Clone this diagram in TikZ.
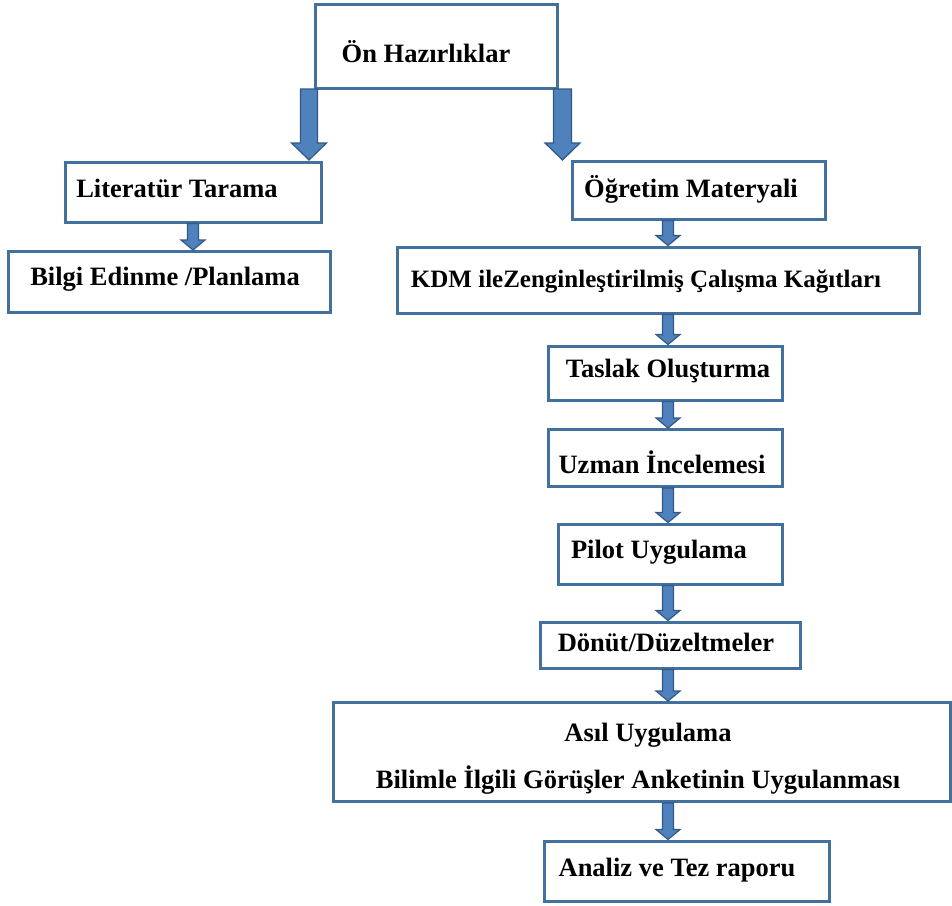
\documentclass[tikz,border=0pt]{standalone}
\usepackage{fontspec}
\setmainfont{Liberation Serif}
\usetikzlibrary{calc}
\definecolor{boxline}{RGB}{65,113,156}
\definecolor{arrfill}{RGB}{79,129,189}
\definecolor{arrline}{RGB}{50,88,135}
\tikzset{
  boxnode/.style={draw=boxline, line width=3pt, fill=white, inner sep=0pt},
  lbl/.style={font=\fontsize{26.5}{30}\selectfont\bfseries, inner sep=0pt, text=black},
  lblsmall/.style={lbl, font=\fontsize{25}{30}\selectfont\bfseries},
  arrsty/.style={fill=arrfill, draw=arrline, line width=1.2pt, line join=miter},
}
\newcommand\blockarrow[5]{%
  \path[arrsty] let \p1=(#1), \p2=(#2) in
   (\x1-#3,\y1) -- (\x1+#3,\y1) -- (\x1+#3,\y2+#5) -- (\x1+#4,\y2+#5) -- (\x1,\y2)
   -- (\x1-#4,\y2+#5) -- (\x1-#3,\y2+#5) -- cycle;}
\begin{document}
\begin{tikzpicture}[x=1pt,y=-1pt]
\useasboundingbox[fill=white] (0,0) rectangle (952,905);
% column coordinates
\coordinate (colL) at (309,0);
\coordinate (colR) at (562.5,0);
\coordinate (colS) at (193,0);
\coordinate (colM) at (668,0);
% boxes (drawn first for the big arrows)
\node[boxnode, minimum width=242pt, minimum height=84pt] (oh) at (436.5,46) {};
\coordinate (ohb) at (436.5,89);
% big arrows
\blockarrow{colL |- ohb}{colL |- 0,160}{8.5pt}{17.5pt}{17pt}
\blockarrow{colR |- ohb}{colR |- 0,160}{9pt}{17.5pt}{17pt}
% other boxes
\node[boxnode, minimum width=256pt, minimum height=60pt] (lit) at (193.5,192) {};
\node[boxnode, minimum width=322pt, minimum height=61pt] (bilgi) at (169,282) {};
\node[boxnode, minimum width=253pt, minimum height=58pt] (ogr) at (698.5,190) {};
\node[boxnode, minimum width=522pt, minimum height=66pt] (kdm) at (658,280) {};
\node[boxnode, minimum width=234pt, minimum height=54pt] (taslak) at (665,373) {};
\node[boxnode, minimum width=234pt, minimum height=57pt] (uzman) at (665,458) {};
\node[boxnode, minimum width=224pt, minimum height=60pt] (pilot) at (670,554) {};
\node[boxnode, minimum width=260pt, minimum height=46pt] (donut) at (670,645) {};
\node[boxnode, minimum width=617pt, minimum height=99pt] (asil) at (641.5,752) {};
\node[boxnode, minimum width=285pt, minimum height=60pt] (analiz) at (686.5,871) {};
% small arrows
\blockarrow{colS |- lit.south}{colS |- bilgi.north}{5.5pt}{12pt}{10pt}
\blockarrow{colM |- ogr.south}{colM |- kdm.north}{5.5pt}{12pt}{10pt}
\blockarrow{colM |- kdm.south}{colM |- taslak.north}{5.5pt}{12pt}{10pt}
\blockarrow{colM |- taslak.south}{colM |- uzman.north}{5.5pt}{12pt}{10pt}
\blockarrow{colM |- uzman.south}{colM |- pilot.north}{5.5pt}{12pt}{10pt}
\blockarrow{colM |- pilot.south}{colM |- donut.north}{5.5pt}{12pt}{10pt}
\blockarrow{colM |- donut.south}{colM |- asil.north}{5.5pt}{12pt}{10pt}
\blockarrow{colM |- asil.south}{colM |- analiz.north}{5.5pt}{12pt}{10pt}
% labels
\node[lbl] (ohT) at (426,52) {Ön Hazırlıklar};
\node[lbl] (litT) at (177,188) {Literatür Tarama};
\node[lbl] (bilgiT) at (165,279) {Bilgi Edinme /Planlama};
\node[lbl] (ogrT) at (691,189) {Öğretim Materyali};
\node[lblsmall] (kdmT) at (646,281) {KDM ileZenginleştirilmiş Çalışma Kağıtları};
\node[lbl] (taslakT) at (668,371) {Taslak Oluşturma};
\node[lbl] (uzmanT) at (662,462) {Uzman İncelemesi};
\node[lbl] (pilotT) at (659,552) {Pilot Uygulama};
\node[lbl] (donutT) at (666,642) {Dönüt/Düzeltmeler};
\node[lbl] (asilT1) at (648,735) {Asıl Uygulama};
\node[lbl] (asilT2) at (638,780) {Bilimle İlgili Görüşler Anketinin Uygulanması};
\node[lbl] (analizT) at (677,870) {Analiz ve Tez raporu};
\end{tikzpicture}
\end{document}
